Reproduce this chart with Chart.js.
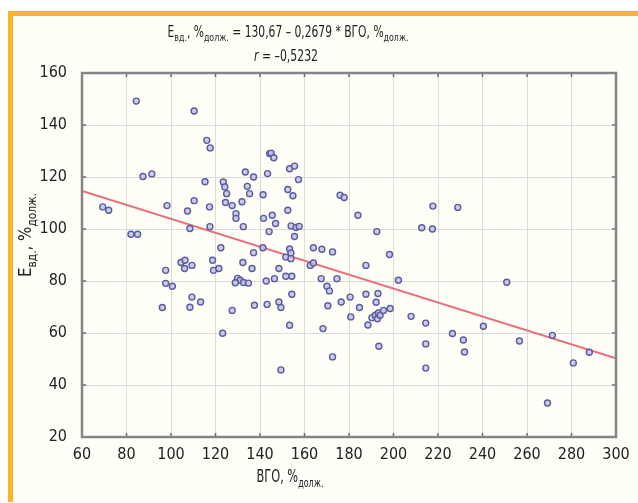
<!DOCTYPE html>
<html>
<head>
<meta charset="utf-8">
<title>ВГО scatter</title>
<script src="https://cdn.jsdelivr.net/npm/chart.js@4.4.0/dist/chart.umd.min.js"></script>
<style>
  body { margin: 0; background: #fff; }
  #wrap { position: relative; width: 638px; height: 503px; overflow: hidden; }
  #frame {
    position: absolute; left: 8px; top: 11px; right: 0; bottom: 1px;
    border-top: 5px solid #fbb52a; border-left: 5px solid #fbb52a;
    background: #fffef7;
  }
  #chart { position: absolute; left: 0; top: 0; }
</style>
</head>
<body>
<div id="wrap">
  <div id="frame"></div>
  <canvas id="chart" width="638" height="503"></canvas>
</div>

<script>
// ВГО, %долж. (x) and Eвд., %долж. (y)
var vgo = [
  84.4, 110.4, 116.1, 117.6, 87.4, 91.4, 69.3, 72.0, 82.0, 85.0,
  98.2, 107.4, 110.4, 108.5, 115.3, 117.3, 117.5, 122.4, 123.5, 124.2,
  125.0, 124.5, 127.5, 129.2, 129.2, 131.9, 132.5, 133.4, 137.1, 134.3,
  135.3, 137.1, 141.4, 141.6, 141.3, 143.4, 144.3, 145.0, 146.2, 145.5,
  147.0, 144.1, 152.5, 152.5, 154.8, 153.3, 155.5, 157.3, 154.0, 156.2,
  157.6, 155.5, 153.3, 153.9, 164.0, 167.8, 172.6, 176.0, 177.8, 184.0,
  192.5, 212.7, 217.5, 217.7, 228.9, 198.2,
  97.6, 97.6, 100.6, 96.1, 104.5, 106.3, 106.1, 109.4, 109.4, 108.5,
  113.3, 118.7, 119.1, 121.5, 123.2, 127.5, 129.9, 131.1, 128.9, 132.6,
  134.8, 132.3, 136.4, 137.5, 142.8, 146.5, 143.2, 148.5, 148.5, 149.4,
  151.6, 153.9, 151.6, 154.3, 154.3, 153.3, 149.4, 162.6, 164.0, 167.5,
  170.1, 171.2, 174.6, 170.5, 176.5, 180.5, 180.8, 168.3, 172.6, 184.7,
  187.6, 187.6, 193.0, 192.2, 188.5, 190.3, 191.8, 192.8, 193.2, 194.0,
  195.5, 198.5, 193.4, 202.2, 207.9, 214.5, 214.5, 214.5, 226.5, 231.4,
  231.9, 240.4, 250.9, 256.6, 271.4, 269.2, 280.8, 288.0
];
var evd = [
  149.2, 145.4, 134.1, 131.2, 120.2, 121.2, 108.5, 107.2, 98.0, 98.0,
  109.0, 106.9, 110.9, 100.2, 118.2, 108.5, 100.9, 92.8, 118.1, 116.2,
  113.6, 110.2, 109.0, 105.9, 104.1, 110.5, 100.9, 121.9, 120.0, 116.4,
  113.6, 90.9, 113.2, 104.1, 92.8, 121.3, 129.0, 129.2, 127.4, 105.3,
  102.1, 99.0, 107.2, 115.2, 112.8, 123.2, 124.2, 119.0, 101.2, 100.6,
  101.0, 97.1, 92.3, 90.8, 92.8, 92.2, 91.2, 113.0, 112.1, 105.3,
  99.0, 100.5, 100.0, 108.8, 108.3, 90.2,
  84.1, 79.1, 78.0, 69.8, 87.1, 88.0, 84.8, 86.0, 73.8, 69.9,
  71.9, 88.0, 84.1, 84.8, 59.9, 68.7, 81.0, 80.3, 79.3, 79.4,
  79.2, 87.1, 84.8, 70.7, 80.0, 80.9, 71.0, 84.8, 71.9, 69.8,
  89.2, 88.6, 81.8, 81.8, 74.9, 63.0, 45.8, 86.0, 86.9, 80.9,
  78.0, 76.2, 80.9, 70.5, 71.9, 73.8, 66.2, 61.7, 50.8, 69.8,
  86.0, 74.9, 75.2, 71.8, 63.1, 65.9, 66.8, 65.5, 67.7, 66.8,
  68.7, 69.4, 54.9, 80.3, 66.4, 63.8, 55.8, 46.5, 59.8, 57.3,
  52.7, 62.6, 79.5, 56.9, 59.1, 33.1, 48.5, 52.6
];

// regression line ends: E = 130,67 - 0,2679 * ВГО at 60 and 300
var fitX = [60, 300];
var fitY = [114.6, 50.3];

var xTicks = [60, 80, 100, 120, 140, 160, 180, 200, 220, 240, 260, 280, 300];
var yTicks = [20, 40, 60, 80, 100, 120, 140, 160];

var FONT = "'Liberation Sans Narrow', 'Arial Narrow', 'DejaVu Sans Condensed', sans-serif";
Chart.defaults.font.family = FONT;
Chart.defaults.color = '#222';

// text pieces: [text, subscript?, italic?]; squeezed sideways to fit width w
function drawRich(ctx, parts, cx, cy, size, subSize, w) {
  var full = 0;
  parts.forEach(function (p) {
    ctx.font = (p[2] ? 'italic ' : '') + (p[1] ? subSize : size) + 'px ' + FONT;
    full += ctx.measureText(p[0]).width;
  });
  var k = Math.min(1, w / full);
  ctx.save();
  ctx.translate(cx - full * k / 2, cy);
  ctx.scale(k, 1);
  ctx.textAlign = 'left';
  ctx.textBaseline = 'alphabetic';
  var x = 0;
  parts.forEach(function (p) {
    ctx.font = (p[2] ? 'italic ' : '') + (p[1] ? subSize : size) + 'px ' + FONT;
    ctx.fillText(p[0], x, p[1] ? size * 0.28 : 0);
    x += ctx.measureText(p[0]).width;
  });
  ctx.restore();
}

var framePlugin = {
  id: 'frame',
  afterDraw: function (chart) {
    var ctx = chart.ctx, a = chart.chartArea;
    var sx = chart.scales.x, sy = chart.scales.y;
    ctx.save();
    // inner tick marks
    ctx.strokeStyle = '#6a6a6a';
    ctx.lineWidth = 1.5;
    ctx.beginPath();
    xTicks.forEach(function (v) {
      var px = sx.getPixelForValue(v);
      ctx.moveTo(px, a.bottom); ctx.lineTo(px, a.bottom - 4);
      ctx.moveTo(px, a.top); ctx.lineTo(px, a.top + 4);
    });
    yTicks.forEach(function (v) {
      var py = sy.getPixelForValue(v);
      ctx.moveTo(a.left, py); ctx.lineTo(a.left + 4, py);
      ctx.moveTo(a.right, py); ctx.lineTo(a.right - 4, py);
    });
    ctx.stroke();
    // box
    ctx.strokeStyle = '#858585';
    ctx.lineWidth = 2.5;
    ctx.strokeRect(a.left, a.top, a.right - a.left, a.bottom - a.top);

    ctx.fillStyle = '#222';
    drawRich(ctx, [['E'], ['вд.', 1], [', %'], ['долж.', 1],
      [' = 130,67 – 0,2679 * ВГО, %'], ['долж.', 1]], 288, 37, 15, 11, 241);
    drawRich(ctx, [['r', 0, 1], [' = –0,5232']], 286, 61, 15, 11, 64);
    drawRich(ctx, [['ВГО, %'], ['долж.', 1]], 290, 482, 17, 12, 67);
    ctx.translate(31, 235);
    ctx.rotate(-Math.PI / 2);
    drawRich(ctx, [['E'], ['вд.', 1], [', %'], ['долж.', 1]], 0, 0, 17, 12, 84);
    ctx.restore();
  }
};

var points = vgo.map(function (v, i) { return { x: v, y: evd[i] }; });
var fit = fitX.map(function (v, i) { return { x: v, y: fitY[i] }; });

new Chart(document.getElementById('chart'), {
  type: 'scatter',
  data: {
    datasets: [
      {
        data: points,
        pointRadius: 3,
        pointBorderWidth: 1.4,
        borderColor: '#5a5ca3',
        backgroundColor: 'rgba(195,195,222,0.85)'
      },
      {
        type: 'line',
        data: fit,
        showLine: true,
        pointRadius: 0,
        borderColor: '#e8707c',
        borderWidth: 2
      }
    ]
  },
  options: {
    responsive: false,
    animation: false,
    layout: { padding: { top: 73, right: 22, left: 0, bottom: 0 } },
    plugins: { legend: { display: false }, tooltip: { enabled: false } },
    scales: {
      x: {
        type: 'linear', min: 60, max: 300,
        afterBuildTicks: function (s) { s.ticks = xTicks.map(function (v) { return { value: v }; }); },
        afterFit: function (s) { s.height = 66; },
        grid: { color: '#dcdcdc', drawTicks: false },
        border: { display: false },
        ticks: { padding: 8, font: { size: 16 }, maxRotation: 0, autoSkip: false }
      },
      y: {
        min: 20, max: 160,
        afterBuildTicks: function (s) { s.ticks = yTicks.map(function (v) { return { value: v }; }); },
        afterFit: function (s) { s.width = 82; },
        grid: { color: '#dcdcdc', drawTicks: false },
        border: { display: false },
        ticks: { padding: 15, font: { size: 16 } }
      }
    }
  },
  plugins: [framePlugin]
});
</script>
</body>
</html>
